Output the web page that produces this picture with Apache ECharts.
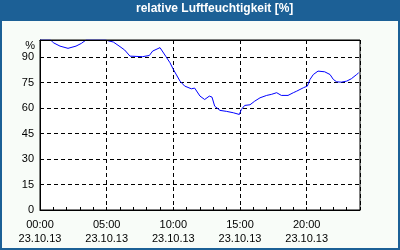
<!DOCTYPE html>
<html>
<head>
<meta charset="utf-8">
<script src="https://cdn.jsdelivr.net/npm/echarts@6/dist/echarts.min.js"></script>
<style>html,body{margin:0;padding:0;background:#f8fcf8;}#c{width:400px;height:250px;}</style>
</head>
<body>
<div id="c"></div>
<script>
const titleText = 'relative Luftfeuchtigkeit [%]';
const hours = [0, 0.8, 1.0, 1.5, 2.1, 2.7, 3.1, 3.45, 4.9, 5.0, 5.5, 6.0, 6.35, 6.75, 7.7, 7.85, 8.2, 8.45, 9.0, 9.1, 9.45, 9.75, 10.0, 10.5, 10.85, 11.35, 11.6, 12.0, 12.35, 12.7, 12.9, 13.1, 13.5, 14.0, 14.5, 14.95, 15.1, 15.35, 15.75, 16.1, 16.5, 17.0, 17.35, 17.75, 18.1, 18.6, 19.0, 19.25, 19.75, 20.05, 20.25, 20.5, 20.85, 21.35, 21.75, 22.0, 22.25, 22.6, 23.0, 23.35, 23.75, 23.9];
const humidity = [100, 100, 98.4, 96.4, 95.1, 96.4, 98, 100, 100, 99.8, 98.8, 96.1, 94.1, 90.5, 90.2, 89.6, 90.9, 93.5, 95.5, 94.5, 90.2, 86.6, 82.7, 75.8, 72.9, 71.3, 71.7, 67, 65, 67, 66.4, 61.1, 58.6, 58, 57.2, 56.2, 59.1, 61.5, 61.9, 64, 66, 67.4, 68, 69, 67.4, 67.4, 69, 69.9, 71.9, 72.9, 76.8, 79.7, 81.7, 81.3, 79.7, 76.8, 75.4, 75.2, 75.8, 77.2, 79.7, 80.7];
const dateLabel = '23.10.13';
const yUnit = '%';

const data = hours.map((h, i) => [h, humidity[i]]);
const blue = '#1c6096';
const font = 'Liberation Sans, Arial, sans-serif';

const chart = echarts.init(document.getElementById('c'), null, {renderer: 'canvas'});
chart.setOption({
  backgroundColor: '#f8fcf8',
  animation: false,
  title: {
    text: titleText, left: 136, top: 3, padding: 0,
    textStyle: {color: '#ffffff', fontSize: 12, fontWeight: 'bold', fontFamily: font}
  },
  graphic: [
    {type: 'rect', shape: {x: 0, y: 0, width: 400, height: 21}, style: {fill: blue}, z: -1},
    {type: 'rect', shape: {x: 0, y: 0, width: 2, height: 250}, style: {fill: blue}, z: -1},
    {type: 'rect', shape: {x: 398, y: 0, width: 2, height: 250}, style: {fill: blue}, z: -1},
    {type: 'rect', shape: {x: 0, y: 248, width: 400, height: 2}, style: {fill: blue}, z: -1},
    {type: 'text', right: 365, top: 40, style: {text: yUnit, fill: '#000', font: '11px ' + font}}
  ],
  grid: {left: 40, top: 40, width: 320, height: 170, show: true, backgroundColor: '#ffffff', borderColor: '#000', borderWidth: 1},
  xAxis: [{
    type: 'value', min: 0, max: 24, interval: 5,
    axisLine: {show: true, lineStyle: {color: '#000', width: 1}},
    axisTick: {show: true, inside: true, length: 3, lineStyle: {color: '#000'}},
    minorTick: {show: true, splitNumber: 5, length: 3, lineStyle: {color: '#000'}},
    axisLabel: {
      showMaxLabel: false, margin: 8, color: '#000', fontSize: 11, fontFamily: font, lineHeight: 14,
      formatter: v => String(v).padStart(2, '0') + ':00\n' + dateLabel
    },
    splitLine: {show: true, lineStyle: {color: '#000', type: [4, 3], width: 1}}
  }, {
    type: 'value', position: 'top', min: 0, max: 24, interval: 5, z: 5,
    axisLine: {show: true, onZero: false, lineStyle: {color: '#000', width: 1}},
    axisTick: {show: false}, axisLabel: {show: false}, splitLine: {show: false}
  }],
  yAxis: {
    type: 'value', min: 0, max: 100, interval: 15,
    axisLine: {show: true, lineStyle: {color: '#000', width: 1}},
    axisTick: {show: false},
    axisLabel: {showMaxLabel: false, margin: 6, color: '#000', fontSize: 11, fontFamily: font},
    splitLine: {show: true, lineStyle: {color: '#000', type: [4, 3], width: 1}}
  },
  series: [{
    type: 'line', data: data, showSymbol: false, smooth: false, xAxisIndex: 0,
    lineStyle: {color: '#0000ff', width: 1}, clip: true
  }]
});
</script>
</body>
</html>
